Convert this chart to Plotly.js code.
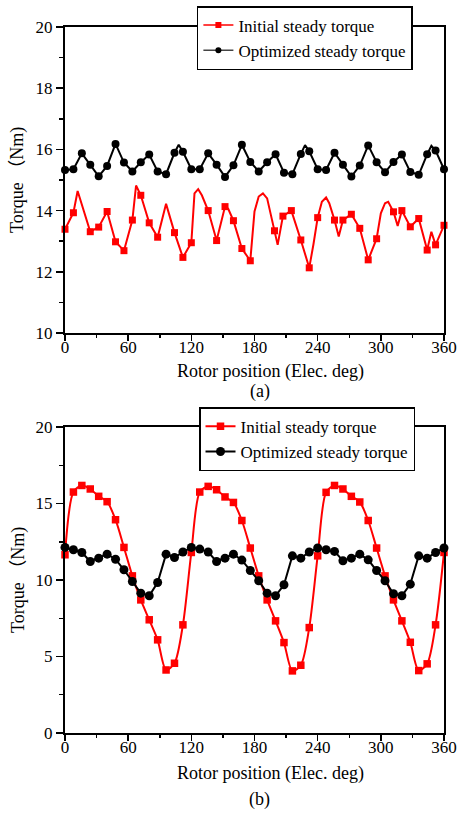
<!DOCTYPE html>
<html><head><meta charset="utf-8">
<script src="https://cdn.plot.ly/plotly-3.0.1.min.js"></script>
<style>html,body{margin:0;padding:0;background:#fff}#chart{width:464px;height:814px}</style>
</head><body><div id="chart"></div>
<script>
// ---- data ----
const angles = [0,8,16,24,32,40,48,56,64,72,80,88,96,104,112,120,128,136,144,152,160,168,176,184,192,200,208,216,224,232,240,248,256,264,272,280,288,296,304,312,320,328,336,344,352,360];

// (a) optimized steady torque: marked samples + unmarked peak vertices
const topOptimized = [15.33,15.35,15.87,15.50,15.12,15.46,16.18,15.57,15.28,15.58,15.83,15.28,15.19,15.89,15.92,15.35,
  15.35,15.87,15.50,15.10,15.48,16.15,15.59,15.28,15.58,15.84,15.24,15.19,15.85,15.94,15.35,
  15.33,15.89,15.50,15.11,15.47,16.13,15.58,15.25,15.59,15.83,15.26,15.17,15.84,15.96,15.35];
const topOptimizedPeakX = [108,228,348];
const topOptimizedPeakY = [16.15,16.14,16.12];

// (a) initial steady torque: marked samples + unmarked line vertices
const topInitialX = [0,8,24,32,40,48,56,64,72,80,88,104,112,120,136,144,152,160,168,176,199,207,215,224,232,240,256,264,272,280,288,296,312,320,328,336,344,352,360];
const topInitialY = [13.39,13.93,13.31,13.46,13.97,12.98,12.69,13.69,14.50,13.60,13.13,13.28,12.47,12.95,14.00,13.02,14.13,13.67,12.76,12.36,13.34,13.82,14.00,13.04,12.13,13.77,13.69,13.69,13.88,13.42,12.39,13.08,13.96,14.00,13.47,13.74,12.71,12.88,13.52];
const topInitialExtraX = [12,67.5,96,123,126.5,130,155,180,184,188,192,202,236,244,248,251,260,300,304,307,316,348];
const topInitialExtraY = [14.64,14.82,14.22,14.56,14.70,14.50,14.06,13.97,14.46,14.56,14.40,12.88,12.90,14.29,14.43,14.24,13.15,13.91,14.24,14.29,13.50,13.31];

// (b)
const bottomInitial = [11.65,15.75,16.18,15.95,15.47,15.12,13.94,12.13,10.27,8.70,7.40,6.09,4.12,4.56,7.07,11.80,
  15.75,16.12,15.90,15.43,15.07,13.89,12.09,10.27,8.70,7.33,5.91,4.06,4.43,6.89,11.58,
  15.73,16.18,15.95,15.47,15.10,13.89,12.09,10.27,8.70,7.33,5.93,4.08,4.52,7.07,11.80];
const bottomOptimized = [12.13,11.98,11.80,11.21,11.43,11.69,11.36,10.67,9.90,9.14,8.97,9.84,11.69,11.47,11.83,12.13,
  12.02,11.83,11.21,11.43,11.69,11.30,10.62,9.95,9.14,8.97,9.69,11.58,11.43,11.83,12.09,
  11.98,11.87,11.26,11.43,11.69,11.32,10.62,9.95,9.10,8.97,9.73,11.58,11.43,11.80,12.09];

const seriesNames = ['Initial steady torque','Optimized steady torque'];
const xTicks = [0,60,120,180,240,300,360];
const topYTicks = [10,12,14,16,18,20];
const bottomYTicks = [0,5,10,15,20];
const xTitle = 'Rotor position (Elec. deg)';
const yTitle = 'Torque （Nm)';
const panelLabels = ['(a)','(b)'];

// ---- build ----
function merge(x1,y1,x2,y2){
  const pts = x1.map((x,i)=>[x,y1[i]]).concat(x2.map((x,i)=>[x,y2[i]]));
  pts.sort((a,b)=>a[0]-b[0]);
  return {x:pts.map(p=>p[0]), y:pts.map(p=>p[1])};
}
const RED='#ff0000', BLK='#000000';
const FONT='"Liberation Serif","Times New Roman",serif';
const topRedLine = merge(topInitialX,topInitialY,topInitialExtraX,topInitialExtraY);
const topBlkLine = merge(angles,topOptimized,topOptimizedPeakX,topOptimizedPeakY);

const traces = [
  {x:topRedLine.x,y:topRedLine.y,xaxis:'x',yaxis:'y',mode:'lines',line:{color:RED,width:2},showlegend:false,hoverinfo:'skip'},
  {x:topInitialX,y:topInitialY,xaxis:'x',yaxis:'y',mode:'markers',marker:{symbol:'square',color:RED,size:7},cliponaxis:false,showlegend:false},
  {x:topBlkLine.x,y:topBlkLine.y,xaxis:'x',yaxis:'y',mode:'lines',line:{color:BLK,width:2},showlegend:false,hoverinfo:'skip'},
  {x:angles,y:topOptimized,xaxis:'x',yaxis:'y',mode:'markers',marker:{symbol:'circle',color:BLK,size:8},cliponaxis:false,showlegend:false},
  {x:[null],y:[null],xaxis:'x',yaxis:'y',mode:'lines+markers',name:seriesNames[0],line:{color:RED,width:1.5},marker:{symbol:'square',color:RED,size:6},legend:'legend'},
  {x:[null],y:[null],xaxis:'x',yaxis:'y',mode:'lines+markers',name:seriesNames[1],line:{color:'#444',width:1.5},marker:{symbol:'circle',color:BLK,size:6},legend:'legend'},

  {x:angles,y:bottomInitial,xaxis:'x2',yaxis:'y2',mode:'lines+markers',name:seriesNames[0],line:{color:RED,width:2,shape:'spline',smoothing:0.8},marker:{symbol:'square',color:RED,size:7.5},cliponaxis:false,legend:'legend2'},
  {x:angles,y:bottomOptimized,xaxis:'x2',yaxis:'y2',mode:'lines+markers',name:seriesNames[1],line:{color:BLK,width:2},marker:{symbol:'circle',color:BLK,size:9},cliponaxis:false,legend:'legend2'}
];

function xaxis(anchor){
  return {anchor:anchor,range:[0,360],tickvals:xTicks,ticktext:xTicks.map(String),
    showline:true,mirror:true,linewidth:2,linecolor:BLK,ticks:'outside',ticklen:6,tickwidth:1.5,tickcolor:BLK,
    ticklabelstandoff:-8,
    minor:{dtick:30,tick0:0,ticks:'outside',ticklen:3,tickwidth:1.5,tickcolor:BLK},
    showgrid:false,zeroline:false,tickfont:{family:FONT,size:17,color:BLK}};
}
function yaxis(anchor,range,ticks,minorStep,domain){
  return {anchor:anchor,domain:domain,range:range,tickvals:ticks,ticktext:ticks.map(String),
    showline:true,mirror:true,linewidth:2,linecolor:BLK,ticks:'outside',ticklen:7,tickwidth:1.5,tickcolor:BLK,
    minor:{dtick:minorStep,tick0:0,ticks:'outside',ticklen:4,tickwidth:1.5,tickcolor:BLK},
    showgrid:false,zeroline:false,tickfont:{family:FONT,size:17,color:BLK}};
}
const annFont={family:FONT+',"Noto Sans CJK SC"',size:18,color:BLK};
const legendBase={bgcolor:'#ffffff',bordercolor:BLK,borderwidth:1.5,font:{family:FONT,size:17,color:BLK},
  xanchor:'left',yanchor:'top',tracegroupgap:0,itemwidth:30};

const layout={
  width:464,height:814,margin:{l:65,r:20,t:27,b:81,autoexpand:false},
  paper_bgcolor:'#fff',plot_bgcolor:'#fff',showlegend:true,
  xaxis:xaxis('y'),
  yaxis:yaxis('x',[10,20],topYTicks,1,[0.5666,1]),
  xaxis2:xaxis('y2'),
  yaxis2:yaxis('x2',[0,20],bottomYTicks,2.5,[0,0.4334]),
  legend:Object.assign({x:0.348,y:1.0297},legendBase),
  legend2:Object.assign({x:0.3536,y:0.4613},legendBase),
  annotations:[
    {text:xTitle,xref:'paper',yref:'paper',x:0.5435,y:0.5118,showarrow:false,xanchor:'center',yanchor:'middle',font:annFont},
    {text:panelLabels[0],xref:'paper',yref:'paper',x:0.514,y:0.4834,showarrow:false,xanchor:'center',yanchor:'middle',font:annFont},
    {text:xTitle,xref:'paper',yref:'paper',x:0.541,y:-0.0567,showarrow:false,xanchor:'center',yanchor:'middle',font:annFont},
    {text:panelLabels[1],xref:'paper',yref:'paper',x:0.514,y:-0.0949,showarrow:false,xanchor:'center',yanchor:'middle',font:annFont},
    {text:yTitle,xref:'paper',yref:'paper',x:-0.124,y:0.7833,showarrow:false,xanchor:'center',yanchor:'middle',textangle:-90,font:annFont},
    {text:yTitle,xref:'paper',yref:'paper',x:-0.124,y:0.2167,showarrow:false,xanchor:'center',yanchor:'middle',textangle:-90,font:annFont}
  ]
};
Plotly.newPlot('chart',traces,layout,{displayModeBar:false,staticPlot:true});
</script></body></html>
